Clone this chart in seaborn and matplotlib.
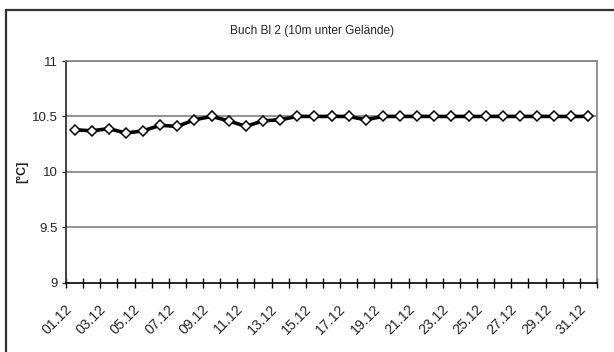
import matplotlib
matplotlib.use("Agg")
import matplotlib.pyplot as plt
import matplotlib.patches as mpatches
from matplotlib.ticker import FixedLocator, NullFormatter
import numpy as np
import pandas as pd
import seaborn as sns

# Daily temperature readings, December
days = [f"{d:02d}.12" for d in range(1, 32)]
temps = [10.38, 10.37, 10.39, 10.35, 10.37, 10.42, 10.41, 10.47, 10.50, 10.46,
         10.41, 10.46, 10.47, 10.50, 10.50, 10.50, 10.50, 10.47, 10.50, 10.50,
         10.50, 10.50, 10.50, 10.50, 10.50, 10.50, 10.50, 10.50, 10.50, 10.50,
         10.50]
y_ticks = [9, 9.5, 10, 10.5, 11]
y_tick_labels = ["9", "9.5", "10", "10.5", "11"]
title = "Buch Bl 2 (10m unter Gelände)"
y_label = "[°C]"

sns.set_theme(style="white")
plt.rcParams["font.family"] = ["Liberation Sans", "DejaVu Sans"]

df = pd.DataFrame({"idx": np.arange(len(days)), "temp": temps})

fig = plt.figure(figsize=(6.14, 3.52), dpi=100)
W, H = 614, 352
ax = fig.add_axes([66 / W, 1 - 282.7 / H, (597 - 66) / W, (282.7 - 61) / H])

# outer chart frame
fig.patches.append(mpatches.Rectangle((6 / W, -0.05), 1.1, 1 - 10 / H + 0.05,
                                      transform=fig.transFigure, fill=False,
                                      edgecolor="#333333", linewidth=1.6))

for yv in [9.5, 10, 10.5, 11]:
    ax.axhline(yv, color="#808080", linewidth=1.2, zorder=1)

sns.lineplot(data=df, x="idx", y="temp", ax=ax, color="black", linewidth=2.6,
             marker="D", markersize=5.4, markerfacecolor="white",
             markeredgecolor="black", markeredgewidth=1.1, zorder=3)

ax.set_xlim(-0.5, len(days) - 0.5)
ax.set_ylim(9, 11)

# category boundaries as major ticks, every second day labelled
ax.xaxis.set_major_locator(FixedLocator(np.arange(-0.5, len(days), 1.0)))
ax.xaxis.set_major_formatter(NullFormatter())
ax.set_xticks(np.arange(0, len(days), 2), minor=True)
ax.set_xticklabels(days[::2], minor=True, rotation=45, ha="right", va="top",
                   fontsize=10.2)
ax.tick_params(axis="x", which="major", direction="inout", length=7,
               width=1, color="black", bottom=True)
ax.tick_params(axis="x", which="minor", length=0, pad=14)

ax.set_yticks(y_ticks)
ax.set_yticklabels(y_tick_labels, fontsize=9.5)
ax.tick_params(axis="y", which="major", direction="out", length=3, width=1,
               color="#333333", left=True, pad=3)

ax.set_xlabel("")
ax.set_ylabel(y_label, fontsize=9, fontweight="bold")
ax.yaxis.set_label_coords(-0.083, 0.5)
ax.yaxis.label.set_va("center")

for side in ["top", "right"]:
    ax.spines[side].set_color("#808080")
    ax.spines[side].set_linewidth(1.2)
ax.spines["left"].set_color("#404040")
ax.spines["left"].set_linewidth(1.4)
ax.spines["bottom"].set_color("black")
ax.spines["bottom"].set_linewidth(1.2)

fig.text(312 / W, 1 - 31 / H, title, ha="center", va="center", fontsize=8.6)

fig.savefig("out.png", dpi=100)
